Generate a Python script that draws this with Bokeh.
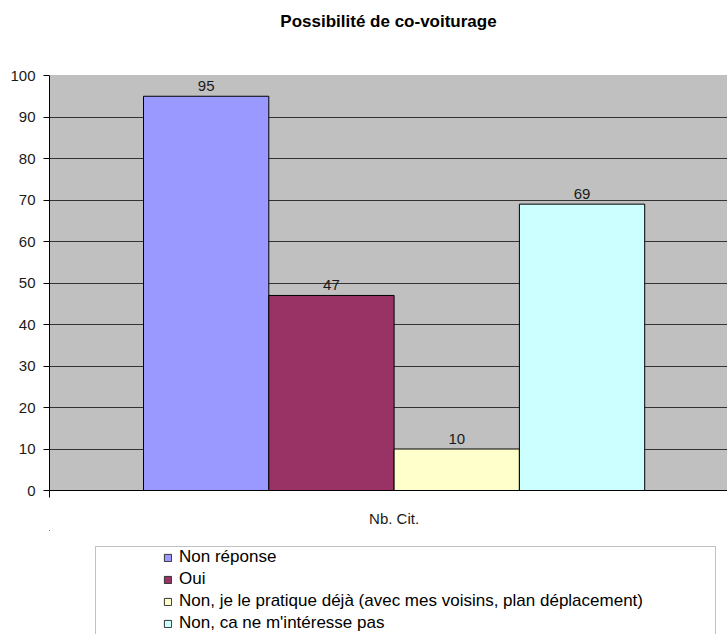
from bokeh.plotting import figure
from bokeh.models import (ColumnDataSource, Range1d, FixedTicker, Span, Legend,
                          LegendItem, Title, BoxAnnotation)
from bokeh.layouts import column
from bokeh.core.properties import value
from bokeh.embed import file_html
from bokeh.resources import INLINE

# ---- data ----
title = "Possibilité de co-voiturage"
category = "Nb. Cit."
series = [
    "Non réponse",
    "Oui",
    "Non, je le pratique déjà (avec mes voisins, plan déplacement)",
    "Non, ca ne m'intéresse pas",
]
values = [95, 47, 10, 69]
colors = ["#9999FF", "#993366", "#FFFFCC", "#CCFFFF"]
y_ticks = [0, 10, 20, 30, 40, 50, 60, 70, 80, 90, 100]

FONT = "Liberation Sans"
W = 727
H1 = 530
H2 = 104
FRAME_LEFT = 49
FRAME_TOP = 75
FRAME_BOTTOM = 490
BAR_PX = 125.3
frame_w = W - FRAME_LEFT
x_start = -(143 - FRAME_LEFT) / BAR_PX
x_end = x_start + frame_w / BAR_PX
center = len(series) / 2
HAS_STANDOFF = "standoff" in Title.properties()

p = figure(width=W, height=H1, output_backend="svg", toolbar_location=None,
           x_range=Range1d(x_start, x_end), y_range=Range1d(0, 100),
           min_border_left=0, min_border_right=0, min_border_top=FRAME_TOP,
           min_border_bottom=H1 - FRAME_BOTTOM)
p.background_fill_color = "#C0C0C0"
p.border_fill_color = "white"
p.outline_line_color = None

# spacer between title and plot area
spacer = Title(text=" ", text_font=FONT, text_font_size="1px")
if HAS_STANDOFF:
    spacer.standoff = 42
p.add_layout(spacer, "above")

t = Title(text=title, align="center", text_font=FONT, text_font_size="17px",
          text_font_style="bold", text_color="black", offset=-3)
if HAS_STANDOFF:
    t.standoff = 0
p.title = t

src = ColumnDataSource(dict(
    x=[i + 0.5 for i in range(len(series))],
    top=values,
    color=colors,
    label=[str(v) for v in values],
    name=series,
))

p.ygrid.ticker = FixedTicker(ticks=y_ticks[1:-1])
p.ygrid.grid_line_color = "#333333"
p.ygrid.grid_line_width = 1
p.xgrid.visible = False
p.add_layout(Span(location=100, dimension="width", line_color="#a0a0a0", line_width=1))

p.vbar(x="x", top="top", bottom=0, width=1.0, fill_color="color",
       line_color="black", line_width=1, source=src)
p.text(x="x", y="top", text="label", text_align="center", text_baseline="alphabetic",
       y_offset=-10, text_font=value(FONT), text_font_size="15px",
       text_color="#1a1a1a", source=src)

yax = p.yaxis[0]
yax.ticker = FixedTicker(ticks=y_ticks)
yax.major_label_text_font = FONT
yax.major_label_text_font_size = "15px"
yax.major_label_text_color = "#1a1a1a"
yax.major_tick_out = 6
yax.major_tick_in = 0
yax.minor_tick_out = 0
yax.minor_tick_in = 0
yax.major_label_standoff = 8
yax.axis_line_color = "black"
yax.major_tick_line_color = "black"

xax = p.xaxis[0]
xax.ticker = FixedTicker(ticks=[center], minor_ticks=[x_start])
xax.major_label_overrides = {center: category}
xax.major_label_text_font = FONT
xax.major_label_text_font_size = "15px"
xax.major_label_text_color = "#1a1a1a"
xax.major_tick_out = 0
xax.major_tick_in = 0
xax.minor_tick_out = 7
xax.minor_tick_in = 0
xax.minor_tick_line_color = "black"
xax.major_label_standoff = 12
xax.axis_line_color = "black"
xax.axis_label = None

# ---- legend panel (data units = page pixels) ----
BOX_LEFT = 95
BOX_RIGHT = 715
BOX_TOP = 546
p2 = figure(width=W, height=H2, output_backend="svg", toolbar_location=None,
            x_range=Range1d(FRAME_LEFT, W), y_range=Range1d(H1 + H2, H1),
            x_axis_location=None, y_axis_location=None,
            min_border_left=FRAME_LEFT, min_border_right=0,
            min_border_top=0, min_border_bottom=0)
p2.grid.visible = False
p2.outline_line_color = None
p2.background_fill_color = "white"
p2.border_fill_color = "white"

p2.add_layout(BoxAnnotation(left=BOX_LEFT, right=BOX_RIGHT, top=BOX_TOP, bottom=H1 + H2 + 20,
                            fill_alpha=0, line_color="#333333", line_width=1))

items = []
for s, c in zip(series, colors):
    r = p2.vbar(x=[-1000], top=[-1000], width=1, fill_color=c, line_color="#333333")
    items.append(LegendItem(label=s, renderers=[r]))

legend = Legend(items=items, location=(163 - FRAME_LEFT, 0), padding=0, spacing=0,
                margin=0, label_height=22, glyph_height=9, glyph_width=9,
                label_standoff=7, border_line_color=None, background_fill_alpha=0,
                label_text_font=FONT, label_text_font_size="17px",
                label_text_color="black")
p2.add_layout(legend, "center")

layout = column(p, p2, spacing=0)
open("out.html", "w").write(file_html(layout, INLINE))
